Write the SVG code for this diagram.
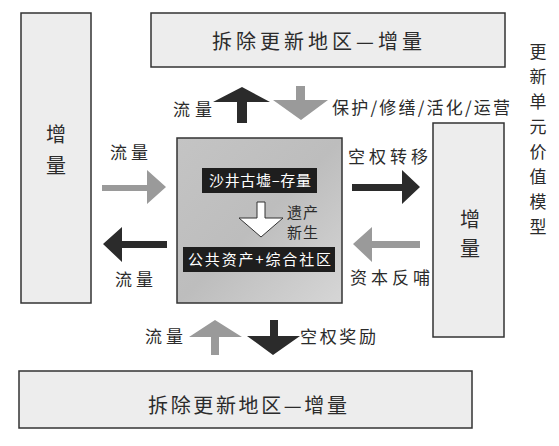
<svg xmlns="http://www.w3.org/2000/svg" width="559" height="446" viewBox="0 0 559 446">
<defs>
<linearGradient id="cg" x1="0" y1="0" x2="1" y2="1">
<stop offset="0" stop-color="#c4c4c4"/>
<stop offset="0.5" stop-color="#bdbdbd"/>
<stop offset="1" stop-color="#d6d6d6"/>
</linearGradient>
</defs>
<style>
text{font-family:"Noto Sans CJK SC","Noto Sans",sans-serif;fill:#2b2b2b}
.box{fill:#ededed;stroke:#333;stroke-width:1.5}
.big{font-size:20px}
.lbl{font-size:17px}
.wt{fill:#fff;font-size:15px}
.dark{fill:#2b2b2b}
.gray{fill:#9a9a9a}
.vt{font-size:20px;text-anchor:middle}
.vs{font-size:17px;text-anchor:middle}
</style>
<rect width="559" height="446" fill="#fff"/>

<g id="top">
<rect class="box" x="151" y="13" width="354" height="54"/>
<text class="big" x="212" y="49" textLength="210" lengthAdjust="spacing">拆除更新地区—增量</text>
</g>
<g id="bottom">
<rect class="box" x="19" y="371" width="453" height="57"/>
<text class="big" x="148" y="413" textLength="199" lengthAdjust="spacing">拆除更新地区—增量</text>
</g>
<g id="left">
<rect class="box" x="21" y="13" width="70" height="290"/>
<text class="vt" x="56" y="142">增</text>
<text class="vt" x="56" y="173">量</text>
</g>
<g id="right">
<rect class="box" x="433" y="123" width="71" height="214"/>
<text class="vt" x="470" y="227">增</text>
<text class="vt" x="470" y="256">量</text>
</g>
<g id="center">
<rect x="177" y="138" width="165" height="165" fill="url(#cg)" stroke="#333" stroke-width="1.5"/>
<rect x="202" y="168" width="115" height="25" fill="#1e1e1e"/>
<text class="wt" x="209" y="186" textLength="102" lengthAdjust="spacing">沙井古墟–存量</text>
<path d="M257,202 H265 V218 H283 L261,237 L239,218 H257 Z" fill="#fff" stroke="#333" stroke-width="1"/>
<text class="lbl" x="287" y="218" style="font-size:15px" textLength="31" lengthAdjust="spacing">遗产</text>
<text class="lbl" x="287" y="238" style="font-size:15px" textLength="31" lengthAdjust="spacing">新生</text>
<rect x="183" y="247" width="152" height="25" fill="#1e1e1e"/>
<text class="wt" x="188" y="265" textLength="143" lengthAdjust="spacing">公共资产+综合社区</text>
</g>
<g id="title">
<text class="vs" x="538" y="58">更</text>
<text class="vs" x="538" y="83">新</text>
<text class="vs" x="538" y="108">单</text>
<text class="vs" x="538" y="133">元</text>
<text class="vs" x="538" y="158">价</text>
<text class="vs" x="538" y="183">值</text>
<text class="vs" x="538" y="208">模</text>
<text class="vs" x="538" y="233">型</text>
</g>

<g id="connectors">
<path class="dark" d="M237,123 V102 H213 L242,87 L270,102 H247 V123 Z"/>
<path class="gray" d="M296,86 H305 V100 H328 L301,120 L273,100 H296 Z"/>
<path class="gray" d="M102,185 H147 V170 L166,187 L147,204 V191 H102 Z"/>
<path class="dark" d="M167,241 H122 V227 L103,244 L122,262 V248 H167 Z"/>
<path class="dark" d="M352,184 H402 V170 L420,187 L402,204 V191 H352 Z"/>
<path class="gray" d="M420,241 H372 V227 L353,244 L372,262 V248 H420 Z"/>
<path class="gray" d="M211,355 V337 H189 L215,320 L242,337 H219 V355 Z"/>
<path class="dark" d="M270,320 H278 V336 H300 L273,355 L247,336 H270 Z"/>
</g>

<g id="labels">
<text class="lbl" x="173" y="116" textLength="39" lengthAdjust="spacing">流量</text>
<text class="lbl" x="332" y="114" textLength="178" lengthAdjust="spacing">保护/修缮/活化/运营</text>
<text class="lbl" x="110" y="159" textLength="38" lengthAdjust="spacing">流量</text>
<text class="lbl" x="115" y="286" textLength="38" lengthAdjust="spacing">流量</text>
<text class="lbl" x="348" y="163" textLength="80" lengthAdjust="spacing">空权转移</text>
<text class="lbl" x="350" y="284" textLength="80" lengthAdjust="spacing">资本反哺</text>
<text class="lbl" x="145" y="343" textLength="38" lengthAdjust="spacing">流量</text>
<text class="lbl" x="300" y="343" textLength="76" lengthAdjust="spacing">空权奖励</text>
</g>
</svg>
